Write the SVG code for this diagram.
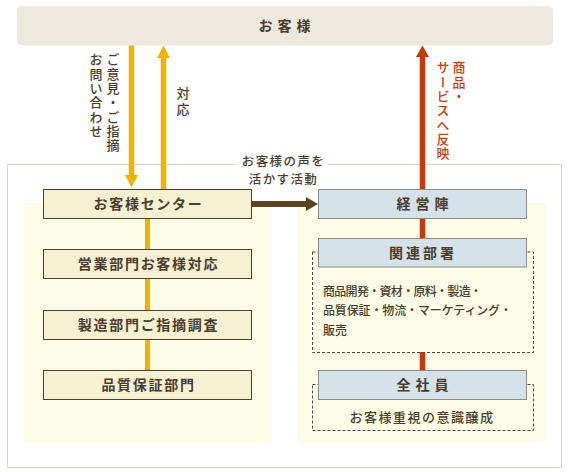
<svg xmlns="http://www.w3.org/2000/svg" width="568" height="472" viewBox="0 0 568 472">
<style>
text{font-family:"Noto Sans CJK JP","Noto Sans",sans-serif;fill:#4a3c2c;font-weight:500}
.b{font-weight:bold;font-size:14px;text-anchor:middle}
.w5{letter-spacing:5px}
.w2{letter-spacing:1.7px}
.v{writing-mode:vertical-rl;font-size:13px;letter-spacing:1.3px}
.red{fill:#c4400f}
.yb{fill:#f7f1d4;stroke:#4d3f2f;stroke-width:1}
.bb{fill:#d5e2ea;stroke:#8a8a8a;stroke-width:1}
.dash{fill:none;stroke:#4a4a4a;stroke-width:1;stroke-dasharray:3 2}
.panel{fill:#fdfce7}
</style>
<rect x="0" y="0" width="568" height="472" fill="#ffffff"/>
<g id="customers">
<rect x="17" y="6" width="536" height="39.5" rx="5" fill="#eee9de"/>
<text class="b w5" x="287" y="31">お客様</text>
</g>
<rect id="outer" x="7.5" y="164.5" width="554" height="303" fill="none" stroke="#dcd6c0" stroke-width="1"/>
<rect class="panel" x="24" y="203" width="246" height="240"/>
<rect class="panel" x="298" y="203" width="248" height="239"/>
<g id="connectors">
<line x1="147.5" y1="218" x2="147.5" y2="371" stroke="#f0b400" stroke-width="5"/>
<line x1="131.5" y1="45.5" x2="131.5" y2="176" stroke="#f0b400" stroke-width="5.5"/>
<polygon points="125,175 138,175 131.5,187.5" fill="#f0b400"/>
<line x1="163.5" y1="57" x2="163.5" y2="189" stroke="#f0b400" stroke-width="5.5"/>
<polygon points="157,58 170,58 163.5,45.5" fill="#f0b400"/>
<line x1="422.5" y1="56" x2="422.5" y2="189" stroke="#c8390a" stroke-width="5.5"/>
<polygon points="416,57 429,57 422.5,45.5" fill="#c8390a"/>
<line x1="422.5" y1="218" x2="422.5" y2="239" stroke="#c8390a" stroke-width="5.5"/>
<line x1="422.5" y1="352" x2="422.5" y2="371" stroke="#c8390a" stroke-width="5.5"/>
<line x1="251" y1="204" x2="307" y2="204" stroke="#5a4424" stroke-width="6"/>
<polygon points="306,197 318,204 306,211" fill="#5a4424"/>
</g>
<g id="labels">
<text class="v" x="113" y="53">ご意見・ご指摘</text>
<text class="v" x="96" y="53">お問い合わせ</text>
<text class="v" x="183" y="87" style="letter-spacing:3px">対応</text>
<text class="v red" x="459" y="61">商品・</text>
<text class="v red" x="443" y="61">サービスへ反映</text>
<rect x="236" y="156" width="92" height="14" fill="#ffffff"/>
<text font-size="12.5" text-anchor="middle" style="letter-spacing:1.4px"><tspan x="283.5" y="166">お客様の声を</tspan><tspan x="283.5" y="184">活かす活動</tspan></text>
</g>
<g id="center">
<rect class="yb" x="43.5" y="189.5" width="208" height="29"/>
<text class="b w2" x="148.5" y="209">お客様センター</text>
</g>
<g id="sales">
<rect class="yb" x="43.5" y="249.5" width="208" height="29"/>
<text class="b w2" x="148.5" y="269">営業部門お客様対応</text>
</g>
<g id="manufacturing">
<rect class="yb" x="43.5" y="310.5" width="208" height="29"/>
<text class="b w2" x="148.5" y="330">製造部門ご指摘調査</text>
</g>
<g id="qa">
<rect class="yb" x="43.5" y="370.5" width="208" height="29"/>
<text class="b w2" x="148.5" y="390">品質保証部門</text>
</g>
<g id="management">
<rect class="bb" x="318.5" y="189.5" width="208" height="29"/>
<text class="b w5" x="425" y="209">経営陣</text>
</g>
<g id="departments">
<rect class="dash" x="312.5" y="252" width="221" height="100.5"/>
<rect class="bb" x="318.5" y="238.5" width="208" height="28.5"/>
<text class="b" x="423" y="258" style="letter-spacing:3px">関連部署</text>
<text x="323" y="295.5" font-size="12" textLength="159" lengthAdjust="spacing">商品開発・資材・原料・製造・</text>
<text x="323" y="315" font-size="12" textLength="189" lengthAdjust="spacing">品質保証・物流・マーケティング・</text>
<text x="323" y="334.5" font-size="12">販売</text>
</g>
<g id="allstaff">
<rect class="dash" x="312.5" y="384.5" width="221" height="46"/>
<rect class="bb" x="318.5" y="370.5" width="208" height="29"/>
<text class="b w5" x="425" y="390">全社員</text>
<text x="422" y="422" font-size="13" text-anchor="middle" style="letter-spacing:1.5px">お客様重視の意識醸成</text>
</g>
</svg>
